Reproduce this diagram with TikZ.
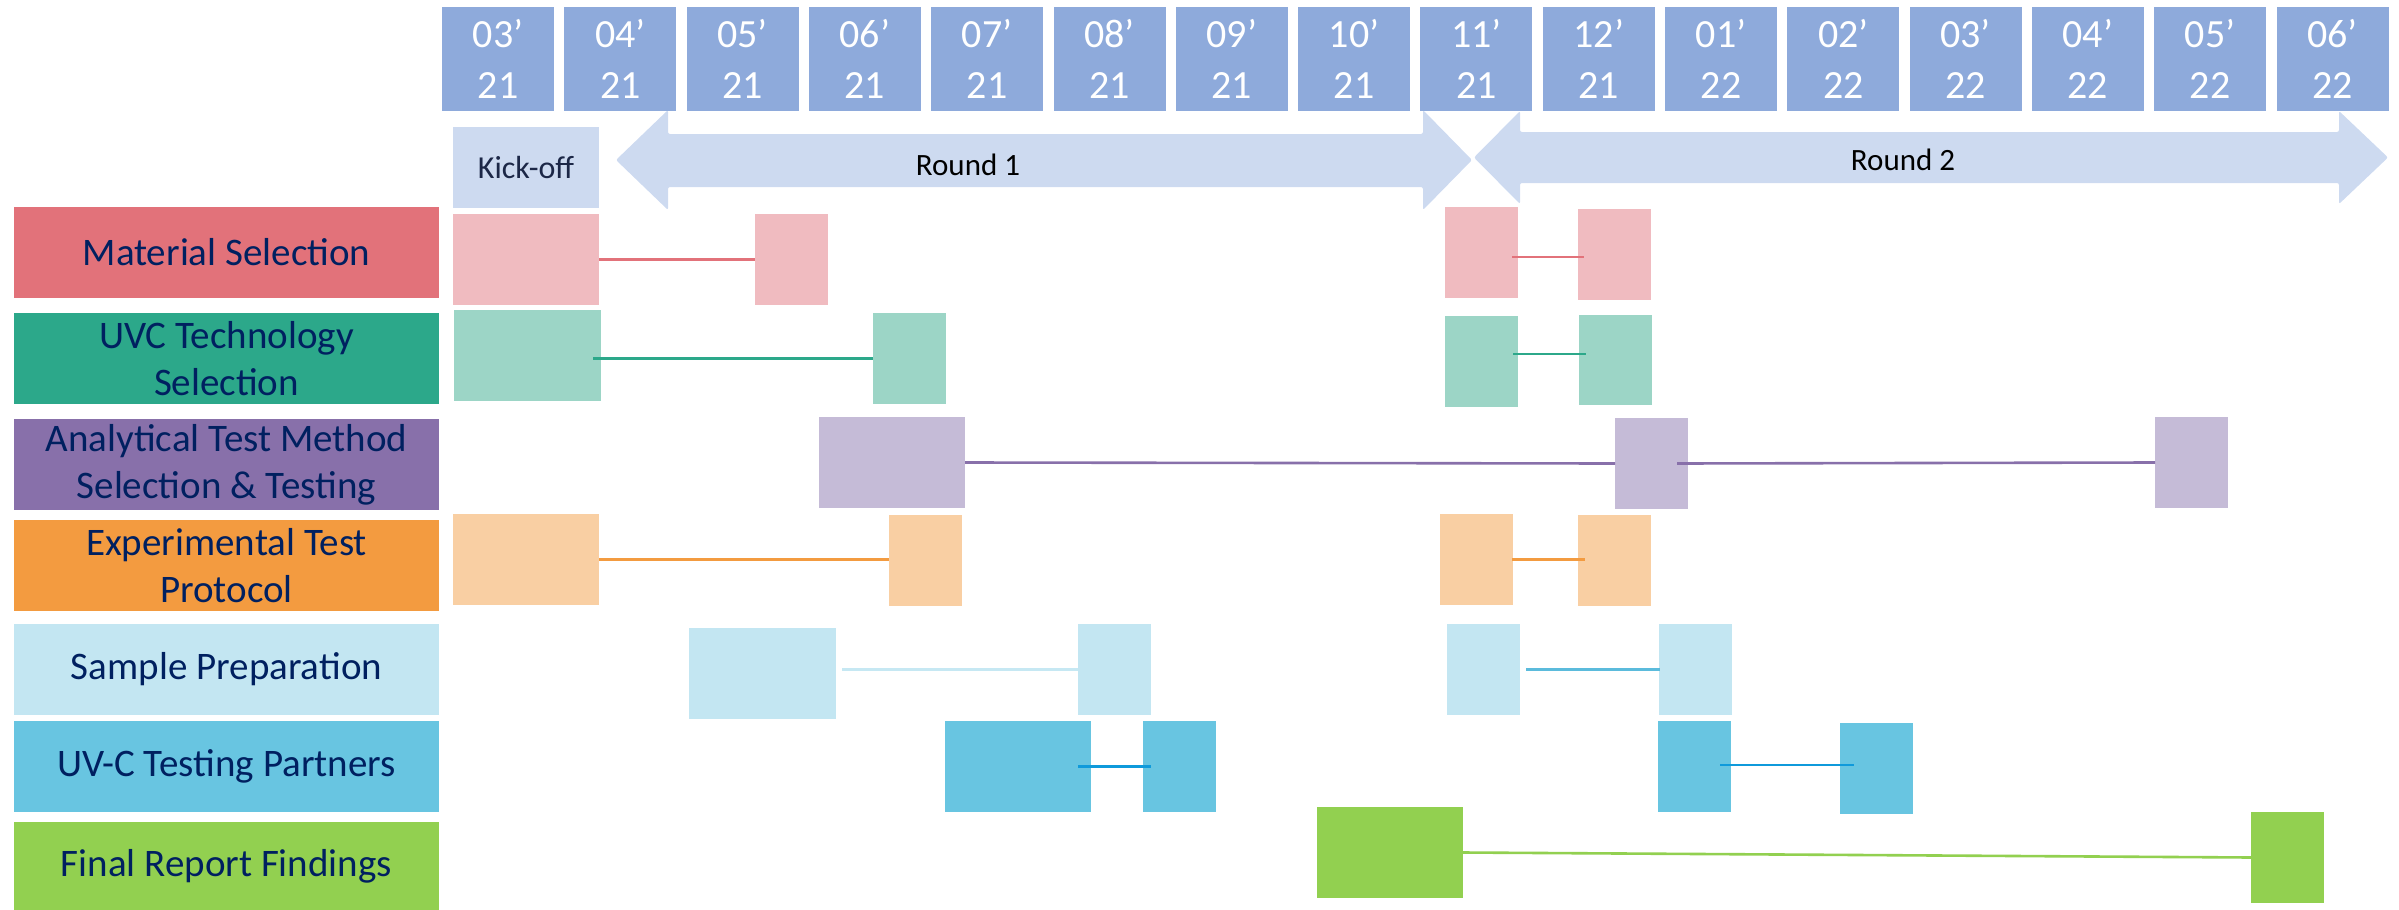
\documentclass[tikz,border=0pt]{standalone}
\usepackage{fontspec}
\setmainfont{Carlito}
\usetikzlibrary{fit}
\definecolor{monthc}{HTML}{8EAADB}
\definecolor{palec}{HTML}{CDDAF0}
\definecolor{navyc}{HTML}{002060}
\definecolor{kickc}{HTML}{1C2747}
\definecolor{matD}{HTML}{E2727A}
\definecolor{matL}{HTML}{F0BBC0}
\definecolor{uvD}{HTML}{2CA88A}
\definecolor{uvL}{HTML}{9CD5C6}
\definecolor{anD}{HTML}{8870AA}
\definecolor{anL}{HTML}{C5BBD7}
\definecolor{exD}{HTML}{F39B40}
\definecolor{exL}{HTML}{F9CFA3}
\definecolor{saL}{HTML}{C3E6F2}
\definecolor{saLine}{HTML}{C6E8F3}
\definecolor{saLineB}{HTML}{5BBBDC}
\definecolor{tpL}{HTML}{68C5E1}
\definecolor{tpLine}{HTML}{0F9ADB}
\definecolor{fiL}{HTML}{92D050}
\newcommand{\gbox}[6]{\node[fit={(#2,#3) (#4,#5)}, inner sep=0pt, outer sep=0pt, fill=#6, draw=none] (#1) {};}
\begin{document}
\begin{tikzpicture}[x=0.5pt,y=-0.5pt,
  monthbox/.style={fill=monthc, minimum width=56pt, minimum height=52pt, inner sep=0pt,
    text=white, align=center, font=\fontsize{20}{25.5}\selectfont},
  labelbox/.style={minimum width=212.5pt, minimum height=45.5pt, inner sep=0pt,
    text=navyc, align=center, font=\fontsize{19.5}{23.5}\selectfont},
  conn/.style={draw=#1, line width=1.3pt},
  roundtext/.style={anchor=base, text=black, font=\fontsize{15.5}{18}\selectfont, inner sep=0pt}
]
\useasboundingbox (0,0) rectangle (2399,910);

% month header
\foreach \m/\yr [count=\i from 0] in {03/21,04/21,05/21,06/21,07/21,08/21,09/21,10/21,11/21,12/21,01/22,02/22,03/22,04/22,05/22,06/22}{
  \node[monthbox] (mo\i) at ({498+122.3*\i},59) {\m’\\\yr};
}

% round arrows
\fill[palec, rounded corners=1pt] (616,160) -- (668,110) -- (668,134) -- (1423,134) -- (1423,110) -- (1472,160)
  -- (1423,210) -- (1423,187) -- (668,187) -- (668,210) -- cycle;
\fill[palec, rounded corners=1pt] (1474,157.5) -- (1520,111) -- (1520,132) -- (2339,132) -- (2339,111) -- (2388,157.5)
  -- (2339,204) -- (2339,183) -- (1520,183) -- (1520,204) -- cycle;
\node[roundtext] (r1) at (968,175) {Round 1};
\node[roundtext] (r2) at (1903,170) {Round 2};

% kick-off
\node[fill=palec, minimum width=73pt, minimum height=40.5pt, inner sep=0pt, text=kickc,
  font=\fontsize{16}{19}\selectfont] (kick) at (526,167.5) {Kick-off};

% row labels
\node[labelbox, fill=matD] (lmat) at (226.5,252.5) {Material Selection};
\node[labelbox, fill=uvD] (luv) at (226.5,358.5) {UVC Technology\\Selection};
\node[labelbox, fill=anD] (lan) at (226.5,464.5) {Analytical Test Method\\Selection \& Testing};
\node[labelbox, fill=exD] (lex) at (226.5,565.5) {Experimental Test\\Protocol};
\node[labelbox, fill=saL] (lsa) at (226.5,669.5) {Sample Preparation};
\node[labelbox, fill=tpL] (ltp) at (226.5,766.5) {UV-C Testing Partners};
\node[labelbox, fill=fiL, minimum height=44pt] (lfi) at (226.5,866) {Final Report Findings};

% material selection
\gbox{ms1}{453}{214}{599}{305}{matL}
\gbox{ms2}{755}{214}{828}{305}{matL}
\gbox{ms3}{1445}{207}{1518}{298}{matL}
\gbox{ms4}{1578}{209}{1651}{300}{matL}
% uvc
\gbox{uv1}{454}{310}{601}{401}{uvL}
\gbox{uv2}{873}{313}{946}{404}{uvL}
\gbox{uv3}{1445}{316}{1518}{407}{uvL}
\gbox{uv4}{1579}{315}{1652}{405}{uvL}
% analytical
\gbox{an1}{819}{417}{965}{508}{anL}
\gbox{an2}{1615}{418}{1688}{509}{anL}
\gbox{an3}{2155}{417}{2228}{508}{anL}
% experimental
\gbox{ex1}{453}{514}{599}{605}{exL}
\gbox{ex2}{889}{515}{962}{606}{exL}
\gbox{ex3}{1440}{514}{1513}{605}{exL}
\gbox{ex4}{1578}{515}{1651}{606}{exL}
% sample prep
\gbox{sa1}{689}{628}{836}{719}{saL}
\gbox{sa2}{1078}{624}{1151}{715}{saL}
\gbox{sa3}{1447}{624}{1520}{715}{saL}
\gbox{sa4}{1659}{624}{1732}{715}{saL}
% testing partners
\gbox{tp1}{945}{721}{1091}{812}{tpL}
\gbox{tp2}{1143}{721}{1216}{812}{tpL}
\gbox{tp3}{1658}{721}{1731}{812}{tpL}
\gbox{tp4}{1840}{723}{1913}{814}{tpL}
% final
\gbox{fi1}{1317}{807}{1463}{898}{fiL}
\gbox{fi2}{2251}{812}{2324}{903}{fiL}

% connectors
\draw[conn=matD] (ms1.east) -- (ms1.east -| ms2.west);
\draw[conn=matD] ([xshift=-3pt,yshift=-2.25pt]ms3.east) -- ([xshift=3pt,yshift=-2.25pt]ms3.east -| ms4.west);
\draw[conn=uvD] ([xshift=-4pt]uv2.west -| uv1.east) -- (uv2.west);
\draw[conn=uvD] ([xshift=-2.5pt,yshift=3.75pt]uv3.east) -- ([xshift=3.5pt,yshift=3.75pt]uv3.east -| uv4.west);
\draw[conn=anD] (an1.east) -- (an2.west);
\draw[conn=anD] ([xshift=-5.5pt]an2.east) -- (an3.west);
\draw[conn=exD] (ex1.east) -- (ex1.east -| ex2.west);
\draw[conn=exD] ([xshift=-0.5pt]ex3.east) -- ([xshift=3.5pt]ex3.east -| ex4.west);
\draw[conn=saLine] ([xshift=3pt]sa2.west -| sa1.east) -- (sa2.west);
\draw[conn=saLineB] ([xshift=3pt]sa3.east) -- ([xshift=0.5pt]sa3.east -| sa4.west);
\draw[conn=tpLine] (tp2.west -| sa2.west) -- ([xshift=4pt]tp2.west);
\draw[conn=tpLine] ([xshift=-5.5pt,yshift=0.75pt]tp3.east) -- ([xshift=7pt,yshift=0.75pt]tp3.east -| tp4.west);
\draw[conn=fiL] (fi1.east) -- (fi2.west);
\end{tikzpicture}
\end{document}
